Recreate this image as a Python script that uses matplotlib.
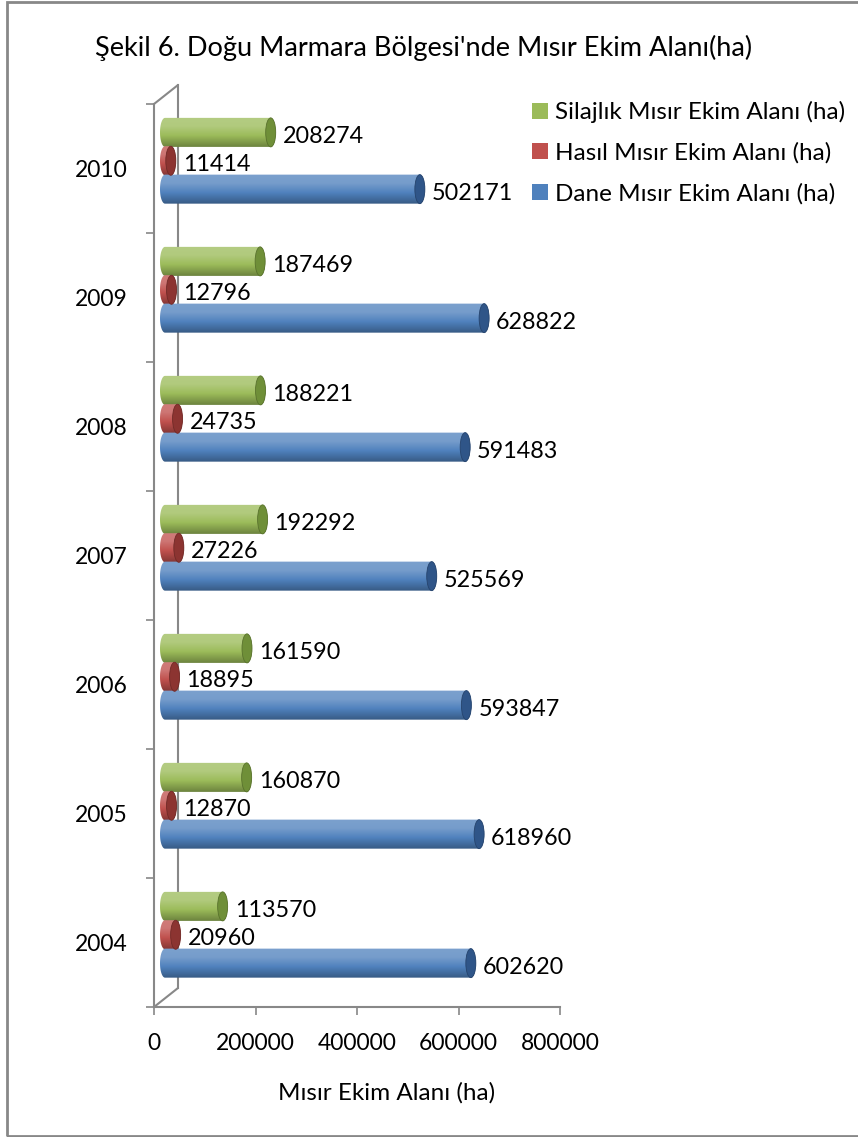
import numpy as np
import matplotlib.pyplot as plt
from matplotlib.patches import Ellipse, PathPatch, Patch, Rectangle
from matplotlib.path import Path
from matplotlib.colors import to_rgb

plt.rcParams['font.family'] = ['Lato', 'DejaVu Sans']

years = ['2004', '2005', '2006', '2007', '2008', '2009', '2010']
silaj = [113570, 160870, 161590, 192292, 188221, 187469, 208274]
hasil = [20960, 12870, 18895, 27226, 24735, 12796, 11414]
dane = [602620, 618960, 593847, 525569, 591483, 628822, 502171]
names = ['Silajlık Mısır Ekim Alanı (ha)', 'Hasıl Mısır Ekim Alanı (ha)',
         'Dane Mısır Ekim Alanı (ha)']
colors = ['#9bbb59', '#c0504d', '#4f81bd']
caps = ['#6f8f38', '#8c3431', '#2f5588']
xticks = [0, 200000, 400000, 600000, 800000]

W, H = 858, 1137
fig = plt.figure(figsize=(W / 100, H / 100), dpi=100)
# frame (right side falls outside the picture)
fig.patches.append(Rectangle((6.5 / W, 1 / H), 900 / W, 1134 / H, transform=fig.transFigure,
                             fill=False, ec='#888888', lw=2))

# axes in pixels
L, R, T, B = 154, 560, 104, 1007
pos = [L / W, 1 - B / H, (R - L) / W, (B - T) / H]
ax = fig.add_axes(pos)
ax.set_xlim(0, 800000)
ax.set_ylim(-0.5, 6.5)
ax.patch.set_alpha(0)
for s in ['top', 'right']:
    ax.spines[s].set_visible(False)
for s in ['left', 'bottom']:
    ax.spines[s].set_color('#888888')
    ax.spines[s].set_linewidth(1.5)
ax.set_xticks(xticks)
ax.set_xticklabels([str(v) for v in xticks], fontsize=16.5)
ax.tick_params(axis='x', length=6, width=1.2, color='#888888', pad=13)
ax.set_yticks(range(len(years)))
ax.set_yticklabels(years, fontsize=16.5)
ax.set_yticks(np.arange(-0.5, 7, 1), minor=True)
ax.tick_params(axis='y', which='major', length=0, pad=19)
ax.tick_params(axis='y', which='minor', length=6, width=1.2, color='#888888')
ax.set_xlabel('Mısır Ekim Alanı (ha)', fontsize=17.5)
ax.xaxis.set_label_coords((387 - L) / (R - L), -(1082 - B) / (B - T))

# 3d wall edges
dx, dy = 24 * 0.72, 19 * 0.72
for yy in [0, 1]:
    ax.annotate('', xy=(0, yy), xycoords='axes fraction', xytext=(dx, dy),
                textcoords='offset points',
                arrowprops=dict(arrowstyle='-', color='#888888', lw=1.5, shrinkA=0, shrinkB=0))
back = fig.add_axes([(L + 24) / W, 1 - (B - 19) / H, 0.001, (B - T) / H])
back.set_axis_off()
back.plot([0, 0], [0, 1], color='#888888', lw=1.5, clip_on=False)
back.set_xlim(-1, 1)
back.set_ylim(0, 1)

# bars drawn slightly shifted (3d depth)
px = 800000 / (R - L)
rx = 5 * px
axb = fig.add_axes([(L + 1) / W, 1 - B / H, (R - L + 10) / W, (B - T) / H])
axb.set_axis_off()
h = 0.225
offs = [0.28, 0.06, -0.16]


def shade(c, f):
    c = np.array(to_rgb(c))
    if f >= 0:
        return c + (1 - c) * f
    return c * (1 + f)


def cylinder(v, y, col, capcol):
    t = np.linspace(np.pi / 2, -np.pi / 2, 40)
    right = np.column_stack([v + rx * np.cos(t), y + h / 2 * np.sin(t)])
    t2 = np.linspace(-np.pi / 2, -3 * np.pi / 2, 40)
    left = np.column_stack([rx * np.cos(t2), y + h / 2 * np.sin(t2)])
    verts = np.vstack([right, left, right[:1]])
    patch = PathPatch(Path(verts), fc='none', ec='none')
    axb.add_patch(patch)
    stops = np.linspace(0, 1, 64)
    f = np.interp(stops, [0, 0.3, 0.6, 1], [0.25, 0.22, 0.02, -0.3])
    grad = np.array([shade(col, k) for k in f])[:, None, :]
    im = axb.imshow(grad, extent=(-rx, v + rx, y - h / 2, y + h / 2), aspect='auto',
                    interpolation='bilinear', zorder=2)
    im.set_clip_path(patch)
    axb.add_patch(Ellipse((v, y), 2 * rx, h, fc=capcol, ec=shade(capcol, -0.2), lw=0.6, zorder=3))


for vals, off, col, cap in zip([silaj, hasil, dane], offs, colors, caps):
    for i, v in enumerate(vals):
        cylinder(v, i + off, col, cap)
        axb.annotate(str(v), (v, i + off), textcoords='offset points',
                     xytext=(12 * 0.72, -4 * 0.72), ha='left', va='center',
                     fontsize=16.8, annotation_clip=False, zorder=4)

axb.set_xlim(-10 * px, 800000)
axb.set_ylim(-0.5, 6.5)

fig.text(424 / W, 1 - 48 / H, "Şekil 6. Doğu Marmara Bölgesi'nde Mısır Ekim Alanı(ha)",
         ha='center', va='center', fontsize=19.5)

handles = [Patch(fc=c, ec='none') for c in colors]
fig.legend(handles, names, loc='upper left', bbox_to_anchor=(520 / W, 1 - 89 / H),
           frameon=False, fontsize=17.5, handlelength=0.65, handleheight=0.65,
           handletextpad=0.3, labelspacing=0.78, borderpad=0)

fig.savefig('out.png', dpi=100)
